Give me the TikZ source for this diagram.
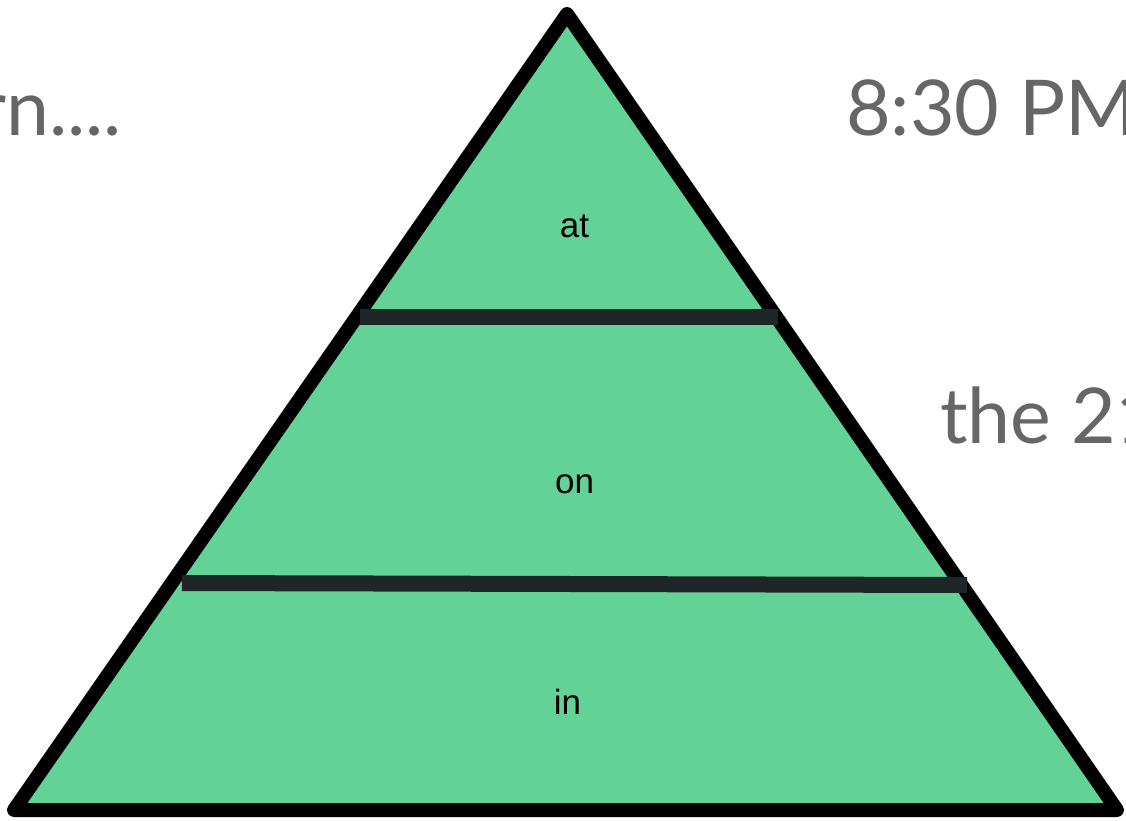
\documentclass[tikz,border=0pt]{standalone}
\usepackage{fontspec}
\setmainfont{Liberation Sans}
\newfontfamily\notefont{Lato}
\usetikzlibrary{positioning}
\definecolor{leaf}{HTML}{62D296}
\definecolor{shelfc}{HTML}{1F2628}
\definecolor{note}{HTML}{666666}
\tikzset{
  tri/.style={draw=black,line width=14pt,line join=round,fill=leaf},
  shelf/.style={draw=shelfc,line width=16pt},
  lvl/.style={font=\fontsize{35}{42}\selectfont,inner sep=0pt,anchor=base},
  side/.style={font=\notefont\fontsize{77}{92}\selectfont,text=note,inner sep=0pt},
}

\begin{document}
\begin{tikzpicture}[x=1pt,y=-1pt]
\useasboundingbox (0,0) rectangle (1126,820);
\clip (0,0) rectangle (1126,820);
% pyramid
\coordinate (top) at (567,14);
\coordinate (bl) at (14,810);
\coordinate (br) at (1117,810);
\draw[tri] (top) -- (bl) -- (br) -- cycle;
% dividers
\coordinate (s1l) at (360,317);
\coordinate (s1r) at (778,317);
\coordinate (s2l) at (182,583);
\coordinate (s2r) at (967,585);
\draw[shelf] (s1l) -- (s1r);
\draw[shelf] (s2l) -- (s2r);
% levels
\node[lvl] (at) at (574.5,237) {at};
\node[lvl] (on) at (574.5,493) {on};
\node[lvl] (in) at (567.5,714) {in};
% side notes
\node[side,anchor=base east] (turn) at (122,135) {rn....};
\node[side,anchor=base west] (time) at (846,135) {8:30 PM};
\node[side,anchor=base west] (date) at (940,443) {the 21};
\end{tikzpicture}
\end{document}
